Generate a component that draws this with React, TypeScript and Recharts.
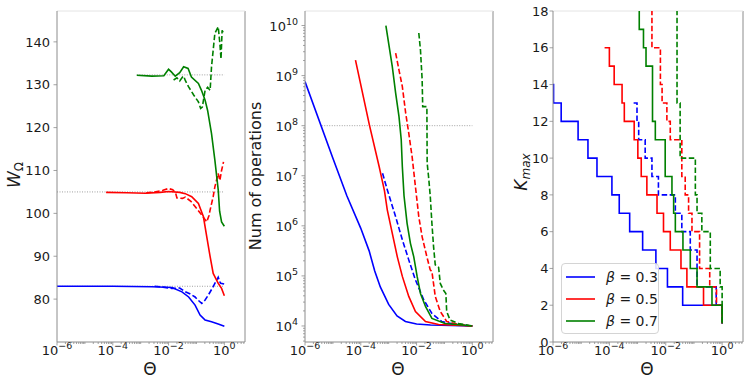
import React from "react";
import { LineChart, Line, XAxis, YAxis, ReferenceLine, Legend } from "recharts";

type Pt = [number, number];

// all Θ values are stored as log10(Θ)

// W_Ω vs Θ
const wBeta03Solid: Pt[] = [[-6, 83.0], [-4, 83.0], [-2.6, 82.9], [-1.88, 82.7], [-1.52, 81.7], [-1.28, 80.5], [-1.05, 78.6], [-0.87, 76.3], [-0.69, 75.1], [-0.46, 74.7], [-0.22, 74.2], [0, 73.7]];
const wBeta03Dashed: Pt[] = [[-2.5, 83.0], [-2.2, 82.8], [-1.88, 82.5], [-1.6, 82.6], [-1.4, 81.7], [-1.22, 81.2], [-1.05, 80.5], [-0.95, 79.8], [-0.81, 79.0], [-0.69, 79.8], [-0.57, 81.0], [-0.4, 82.9], [-0.28, 84.4], [-0.22, 85.1], [-0.16, 84.0], [-0.13, 83.7], [0, 83.5]];
const wBeta05Solid: Pt[] = [[-4.24, 104.9], [-3.5, 104.8], [-2.82, 104.7], [-2.3, 104.9], [-2.0, 105.1], [-1.6, 104.9], [-1.4, 104.6], [-1.17, 103.9], [-0.93, 102.3], [-0.75, 99.2], [-0.63, 94.5], [-0.51, 89.9], [-0.4, 86.0], [-0.22, 83.7], [-0.1, 82.5], [0, 80.8]];
const wBeta05Dashed: Pt[] = [[-2.8, 104.8], [-2.5, 105.0], [-2.2, 105.4], [-2.0, 105.8], [-1.85, 105.5], [-1.75, 104.8], [-1.7, 103.6], [-1.5, 103.5], [-1.4, 103.8], [-1.2, 102.8], [-1.05, 101.6], [-0.81, 99.6], [-0.63, 98.0], [-0.55, 99.5], [-0.51, 100.8], [-0.4, 103.9], [-0.34, 106.2], [-0.22, 109.3], [-0.16, 107.7], [-0.1, 110.0], [-0.03, 112.0]];
const wBeta07Solid: Pt[] = [[-3.14, 132.2], [-2.6, 132.0], [-2.17, 132.1], [-2.0, 133.6], [-1.9, 133.0], [-1.76, 132.0], [-1.6, 132.8], [-1.46, 134.2], [-1.3, 133.8], [-1.18, 131.8], [-0.93, 130.3], [-0.82, 128.7], [-0.69, 126.4], [-0.6, 124.0], [-0.46, 118.6], [-0.34, 112.4], [-0.22, 105.5], [-0.17, 100.5], [-0.1, 98.0], [0, 97.0]];
const wBeta07Dashed: Pt[] = [[-1.82, 131.1], [-1.7, 131.6], [-1.6, 130.9], [-1.5, 131.8], [-1.46, 132.0], [-1.4, 131.0], [-1.28, 129.5], [-1.1, 127.6], [-0.93, 126.0], [-0.85, 124.5], [-0.79, 124.8], [-0.69, 128.7], [-0.6, 129.4], [-0.51, 128.7], [-0.46, 134.2], [-0.34, 142.0], [-0.22, 143.5], [-0.16, 139.6], [-0.12, 136.0], [-0.08, 142.7], [-0.03, 142.0]];
// dotted reference levels: [level, log10 Θ start]
const wRefLevels: Pt[] = [[83.0, -6], [105.0, -6], [132.3, -3.14]];

// number of operations, stored as log10
const opsBeta03Solid: Pt[] = [[-6, 8.88], [-5, 7.35], [-4.5, 6.6], [-4.0, 5.95], [-3.7, 5.5], [-3.5, 5.1], [-3.3, 4.78], [-3.0, 4.43], [-2.7, 4.2], [-2.4, 4.09], [-2.0, 4.04], [-1.5, 4.02], [0, 4.0]];
const opsBeta03Dashed: Pt[] = [[-3.22, 7.05], [-3.05, 6.72], [-2.75, 6.18], [-2.51, 5.72], [-2.28, 5.32], [-2.04, 4.92], [-1.74, 4.52], [-1.45, 4.25], [-1.1, 4.09], [-0.62, 4.03], [0, 4.0]];
const opsBeta05Solid: Pt[] = [[-4.19, 9.31], [-3.69, 8.01], [-3.34, 7.18], [-3.15, 6.7], [-3.05, 6.32], [-2.87, 5.85], [-2.69, 5.38], [-2.51, 4.99], [-2.28, 4.59], [-2.04, 4.29], [-1.68, 4.09], [-1.21, 4.03], [0, 4.0]];
const opsBeta05Dashed: Pt[] = [[-2.75, 9.45], [-2.63, 9.11], [-2.51, 8.78], [-2.39, 8.25], [-2.28, 7.85], [-2.16, 7.38], [-2.04, 6.78], [-1.92, 6.18], [-1.8, 5.78], [-1.63, 5.38], [-1.51, 5.12], [-1.45, 5.09], [-1.33, 4.59], [-1.15, 4.29], [-0.92, 4.09], [-0.5, 4.03], [0, 4.0]];
const opsBeta07Solid: Pt[] = [[-3.1, 10.0], [-2.87, 9.18], [-2.75, 8.65], [-2.63, 8.18], [-2.55, 7.72], [-2.51, 7.18], [-2.45, 6.6], [-2.34, 6.05], [-2.22, 5.65], [-2.1, 5.38], [-1.98, 4.99], [-1.86, 4.65], [-1.68, 4.39], [-1.45, 4.15], [-0.98, 4.05], [0, 4.0]];
const opsBeta07Dashed: Pt[] = [[-1.92, 9.85], [-1.86, 9.51], [-1.8, 8.92], [-1.78, 8.38], [-1.63, 8.38], [-1.62, 7.25], [-1.57, 6.98], [-1.51, 6.6], [-1.45, 6.05], [-1.39, 5.58], [-1.33, 5.22], [-1.21, 5.17], [-1.15, 4.85], [-1.04, 4.72], [-0.95, 4.65], [-0.92, 4.29], [-0.8, 4.12], [-0.5, 4.05], [0, 4.0]];
const opsRefLevel: Pt = [8, -5.4];

// K_max vs Θ (step curves)
const kBeta03Solid: Pt[] = [[-6, 14], [-5.98, 13], [-5.71, 12], [-5.11, 11], [-4.76, 10], [-4.44, 9], [-3.91, 8], [-3.65, 7], [-3.28, 6], [-2.82, 5], [-2.35, 4], [-1.94, 3], [-1.4, 2], [0, 1]];
const kBeta03Dashed: Pt[] = [[-3.14, 13], [-3.02, 12], [-2.96, 11], [-2.73, 10], [-2.49, 9], [-2.26, 8], [-1.66, 7], [-1.43, 6], [-1.13, 5], [-0.89, 3], [-0.21, 2], [0, 1]];
const kBeta05Solid: Pt[] = [[-4.17, 16], [-4.0, 15], [-3.83, 14], [-3.55, 13], [-3.47, 12], [-3.12, 11], [-2.99, 10], [-2.87, 9], [-2.67, 8], [-2.31, 7], [-2.08, 6], [-1.84, 5], [-1.46, 4], [-1.25, 3], [-0.66, 2], [0, 1]];
const kBeta05Dashed: Pt[] = [[-2.73, 19], [-2.49, 16], [-2.19, 14], [-2.13, 13], [-1.96, 12], [-1.84, 11], [-1.43, 9], [-1.31, 8], [-1.19, 7], [-1.07, 6], [-0.8, 4], [-0.44, 3], [-0.2, 2], [0, 2]];
const kBeta07Solid: Pt[] = [[-3.08, 19], [-2.94, 17], [-2.79, 16], [-2.7, 15], [-2.47, 12], [-2.37, 11], [-2.02, 9], [-1.78, 8], [-1.72, 7], [-1.66, 6], [-1.39, 5], [-1.13, 4], [-0.89, 3], [-0.36, 2], [0, 1]];
const kBeta07Dashed: Pt[] = [[-1.84, 19], [-1.6, 13], [-1.49, 10], [-0.95, 8], [-0.89, 7], [-0.72, 6], [-0.42, 4], [-0.07, 3], [0, 1]];

const betaNames = ["β = 0.3", "β = 0.5", "β = 0.7"];
const wTicks = [80, 90, 100, 110, 120, 130, 140];
const kTicks = [0, 2, 4, 6, 8, 10, 12, 14, 16, 18];

const BLUE = "#0000ff";
const RED = "#ff0000";
const GREEN = "#008000";
const FONT = "'DejaVu Sans', sans-serif";
const SPINE = "#8c8c8c";
const TXT = "#1a1a1a";
const DASH = "5.5 2.5";
const LW = 1.6;

const THETA_MIN = 1e-6;
const THETA_MAX = 5.5;
const OPS_MIN = Math.pow(10, 3.68);
const OPS_MAX = Math.pow(10, 10.29);

const toPts = (rows: Pt[], logY = false) =>
  rows.map(([lt, v]) => ({ x: Math.pow(10, lt), y: logY ? Math.pow(10, v) : v }));

// decade + 2..9 sub ticks
const logTicks = (lo: number, hi: number, min: number, max: number) => {
  const out: number[] = [];
  for (let e = lo; e <= hi; e++) {
    for (let k = 1; k <= 9; k++) {
      const v = k * Math.pow(10, e);
      if (v >= min * 0.999 && v <= max * 1.001) out.push(v);
    }
  }
  return out;
};
const thetaTicks = logTicks(-6, 0, THETA_MIN, THETA_MAX);
const opsTicks = logTicks(3, 10, OPS_MIN, OPS_MAX);

const decadeOf = (v: number) => {
  const lg = Math.log10(v);
  const r = Math.round(lg);
  return Math.abs(lg - r) < 1e-6 ? r : null;
};

function Pow10({ x, y, e, anchor }: { x: number; y: number; e: number; anchor: string }) {
  return (
    <text x={x} y={y} textAnchor={anchor} fontFamily={FONT} fontSize={13} fill={TXT}>
      10
      <tspan dy={-6} fontSize={9.5}>
        {e < 0 ? `\u2212${-e}` : `${e}`}
      </tspan>
    </text>
  );
}

function ThetaTick(props: any) {
  const { x, y, payload } = props;
  const d = decadeOf(payload.value);
  const major = d !== null && d % 2 === 0;
  return (
    <g>
      <line x1={x} x2={x} y1={y} y2={y + (major ? 3.5 : 2)} stroke={SPINE} strokeWidth={0.8} />
      {major && <Pow10 x={x} y={y + 13} e={d as number} anchor="middle" />}
    </g>
  );
}

function OpsTick(props: any) {
  const { x, y, payload } = props;
  const d = decadeOf(payload.value);
  const major = d !== null;
  return (
    <g>
      <line x1={x - (major ? 3.5 : 2)} x2={x} y1={y} y2={y} stroke={SPINE} strokeWidth={0.8} />
      {major && <Pow10 x={x - 7} y={y + 5} e={d as number} anchor="end" />}
    </g>
  );
}

const linTick = (gap: number) =>
  function LinTick(props: any) {
    const { x, y, payload } = props;
    return (
      <g>
        <line x1={x - 3.5} x2={x} y1={y} y2={y} stroke={SPINE} strokeWidth={0.8} />
        <text x={x - gap} y={y + 4.7} textAnchor="end" fontFamily={FONT} fontSize={13} fill={TXT}>
          {payload.value}
        </text>
      </g>
    );
  };

const thetaLabel = (cx: number) => () =>
  (
    <text x={cx} y={375} textAnchor="middle" fontFamily={FONT} fontSize={17} fill={TXT}>
      Θ
    </text>
  );

function BetaLegend(props: any) {
  const items = (props.payload || []).filter((p: any) => betaNames.includes(p.value));
  return (
    <div
      style={{
        width: 98,
        height: 71,
        boxSizing: "border-box",
        border: "1px solid #d4d4d4",
        borderRadius: 4,
        background: "rgba(255,255,255,0.85)",
        padding: "2px 0 0 4px",
        fontFamily: FONT,
        color: TXT,
      }}
    >
      {items.map((it: any) => (
        <div key={it.value} style={{ display: "flex", alignItems: "center", height: 22 }}>
          <svg width={29} height={4} style={{ display: "block" }}>
            <line x1={0} x2={29} y1={2} y2={2} stroke={it.color} strokeWidth={LW} />
          </svg>
          <span style={{ marginLeft: 11, fontSize: 14, whiteSpace: "nowrap" }}>
            <i>{it.value.slice(0, 1)}</i>
            {it.value.slice(1)}
          </span>
        </div>
      ))}
    </div>
  );
}

const series = (d: any, color: string, dashed: boolean, type: any = "linear", name?: string) => (
  <Line
    key={`${color}-${dashed}-${name ?? ""}`}
    data={d}
    dataKey="y"
    type={type}
    stroke={color}
    strokeWidth={LW}
    strokeDasharray={dashed ? DASH : undefined}
    dot={false}
    activeDot={false}
    isAnimationActive={false}
    legendType={name ? "line" : "none"}
    name={name ?? `${color}${dashed ? " dashed" : ""}`}
  />
);

const refProps = { stroke: "#a0a0a0", strokeWidth: 1, strokeDasharray: "1 1.5" };

function WPanel() {
  return (
    <LineChart width={250} height={385} margin={{ top: 11, right: 5, bottom: 0, left: 0 }}>
      <XAxis
        dataKey="x"
        type="number"
        scale="log"
        domain={[THETA_MIN, THETA_MAX]}
        allowDataOverflow
        ticks={thetaTicks}
        interval={0}
        tick={ThetaTick}
        tickLine={false}
        tickSize={0}
        tickMargin={0}
        height={43}
        axisLine={{ stroke: SPINE }}
        label={thetaLabel(150)}
      />
      <YAxis
        type="number"
        domain={[70, 147.2]}
        allowDataOverflow
        ticks={wTicks}
        interval={0}
        tick={linTick(7)}
        tickLine={false}
        tickSize={0}
        tickMargin={0}
        width={57}
        axisLine={{ stroke: SPINE }}
        label={() => (
          <text transform="rotate(-90 20 175)" x={20} y={175} textAnchor="middle" fontFamily={FONT} fontSize={17} fill={TXT}>
            <tspan fontStyle="italic">W</tspan>
            <tspan fontSize={12} dy={3}>Ω</tspan>
          </text>
        )}
      />
      <ReferenceLine x={THETA_MAX} stroke={SPINE} />
      <ReferenceLine y={147.2} stroke="#e4e4e4" />
      {wRefLevels.map(([lvl, start]) => (
        <ReferenceLine
          key={lvl}
          segment={[
            { x: Math.pow(10, start), y: lvl },
            { x: 1, y: lvl },
          ]}
          {...refProps}
        />
      ))}
      {series(toPts(wBeta03Solid), BLUE, false)}
      {series(toPts(wBeta03Dashed), BLUE, true)}
      {series(toPts(wBeta05Solid), RED, false)}
      {series(toPts(wBeta05Dashed), RED, true)}
      {series(toPts(wBeta07Solid), GREEN, false)}
      {series(toPts(wBeta07Dashed), GREEN, true)}
    </LineChart>
  );
}

function OpsPanel() {
  return (
    <LineChart width={255} height={385} margin={{ top: 11, right: 2, bottom: 0, left: 0 }}>
      <XAxis
        dataKey="x"
        type="number"
        scale="log"
        domain={[THETA_MIN, THETA_MAX]}
        allowDataOverflow
        ticks={thetaTicks}
        interval={0}
        tick={ThetaTick}
        tickLine={false}
        tickSize={0}
        tickMargin={0}
        height={43}
        axisLine={{ stroke: SPINE }}
        label={thetaLabel(158)}
      />
      <YAxis
        type="number"
        scale="log"
        domain={[OPS_MIN, OPS_MAX]}
        allowDataOverflow
        ticks={opsTicks}
        interval={0}
        tick={OpsTick}
        tickLine={false}
        tickSize={0}
        tickMargin={0}
        width={65}
        axisLine={{ stroke: SPINE }}
        label={() => (
          <text transform="rotate(-90 21 176)" x={21} y={176} textAnchor="middle" fontFamily={FONT} fontSize={16} fill={TXT}>
            Num of operations
          </text>
        )}
      />
      <ReferenceLine x={THETA_MAX} stroke={SPINE} />
      <ReferenceLine y={OPS_MAX} stroke="#e4e4e4" />
      <ReferenceLine
        segment={[
          { x: Math.pow(10, opsRefLevel[1]), y: Math.pow(10, opsRefLevel[0]) },
          { x: 1, y: Math.pow(10, opsRefLevel[0]) },
        ]}
        {...refProps}
      />
      {series(toPts(opsBeta03Solid, true), BLUE, false)}
      {series(toPts(opsBeta03Dashed, true), BLUE, true)}
      {series(toPts(opsBeta05Solid, true), RED, false)}
      {series(toPts(opsBeta05Dashed, true), RED, true)}
      {series(toPts(opsBeta07Solid, true), GREEN, false)}
      {series(toPts(opsBeta07Dashed, true), GREEN, true)}
    </LineChart>
  );
}

function KPanel() {
  return (
    <LineChart width={253} height={385} margin={{ top: 11, right: 5, bottom: 0, left: 0 }}>
      <XAxis
        dataKey="x"
        type="number"
        scale="log"
        domain={[THETA_MIN, THETA_MAX]}
        allowDataOverflow
        ticks={thetaTicks}
        interval={0}
        tick={ThetaTick}
        tickLine={false}
        tickSize={0}
        tickMargin={0}
        height={43}
        axisLine={{ stroke: SPINE }}
        label={thetaLabel(152)}
      />
      <YAxis
        type="number"
        domain={[0, 18]}
        allowDataOverflow
        ticks={kTicks}
        interval={0}
        tick={linTick(4.5)}
        tickLine={false}
        tickSize={0}
        tickMargin={0}
        width={58}
        axisLine={{ stroke: SPINE }}
        label={() => (
          <text transform="rotate(-90 32 172)" x={32} y={172} textAnchor="middle" fontFamily={FONT} fontSize={17} fill={TXT}>
            <tspan fontStyle="italic">K</tspan>
            <tspan fontSize={12} dy={3} fontStyle="italic">max</tspan>
          </text>
        )}
      />
      <ReferenceLine x={THETA_MAX} stroke={SPINE} />
      <ReferenceLine y={18} stroke="#e4e4e4" />
      {series(toPts(kBeta03Solid), BLUE, false, "stepAfter", betaNames[0])}
      {series(toPts(kBeta03Dashed), BLUE, true, "stepAfter")}
      {series(toPts(kBeta05Solid), RED, false, "stepAfter", betaNames[1])}
      {series(toPts(kBeta05Dashed), RED, true, "stepAfter")}
      {series(toPts(kBeta07Solid), GREEN, false, "stepAfter", betaNames[2])}
      {series(toPts(kBeta07Dashed), GREEN, true, "stepAfter")}
      <Legend
        content={BetaLegend}
        layout="vertical"
        align="center"
        verticalAlign="middle"
        wrapperStyle={{ left: 66, top: 263, width: 98, height: 71 }}
      />
    </LineChart>
  );
}

export default function App() {
  return (
    <div style={{ position: "absolute", left: 0, top: 0, width: 748, height: 385, background: "#fff" }}>
      <div style={{ position: "absolute", left: 0, top: 0 }}>
        <WPanel />
      </div>
      <div style={{ position: "absolute", left: 240, top: 0 }}>
        <OpsPanel />
      </div>
      <div style={{ position: "absolute", left: 495, top: 0 }}>
        <KPanel />
      </div>
    </div>
  );
}
